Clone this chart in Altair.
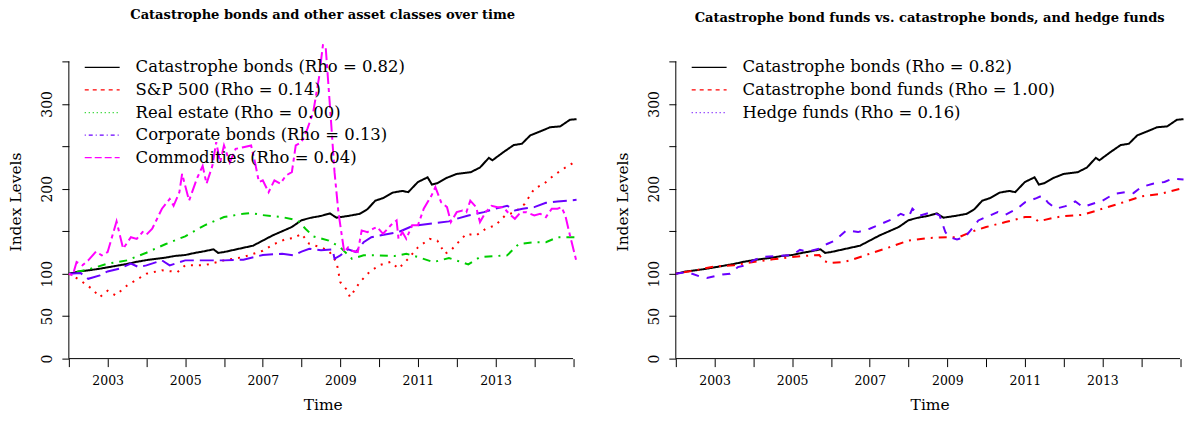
import altair as alt
import pandas as pd

# ---------------- data ----------------
cat_years = [2002.0, 2002.25, 2002.5, 2002.75, 2003.0, 2003.25, 2003.5, 2003.75, 2004.0, 2004.25,
             2004.5, 2004.75, 2005.0, 2005.25, 2005.5, 2005.73, 2005.85, 2006.0, 2006.25, 2006.5,
             2006.75, 2007.0, 2007.25, 2007.5, 2007.75, 2008.0, 2008.25, 2008.5, 2008.73, 2008.9,
             2009.2, 2009.5, 2009.7, 2009.9, 2010.1, 2010.35, 2010.6, 2010.75, 2011.0, 2011.25,
             2011.36, 2011.5, 2011.75, 2012.0, 2012.36, 2012.6, 2012.83, 2012.92, 2013.2, 2013.47,
             2013.68, 2013.9, 2014.15, 2014.41, 2014.67, 2014.92, 2015.09]
cat_values = [100, 102.5, 104, 105.5, 107.5, 109.5, 111.5, 114, 116, 117.5,
              119, 121, 122, 124.5, 126.5, 128.7, 124.5, 125.5, 128, 130.5,
              133, 139, 145, 150, 155, 163, 166, 168, 171, 166,
              168, 170.5, 176, 186, 189, 195.5, 197.5, 196, 208, 213.5,
              205, 206.5, 213, 217.5, 219.5, 225, 236.5, 233.5, 243, 251.5,
              253, 263, 267.5, 272.5, 273.5, 281.3, 282]

sp_years = [2002.0, 2002.3, 2002.6, 2002.8, 2003.0, 2003.2, 2003.5, 2004.0, 2004.4, 2004.8,
            2005.0, 2005.5, 2006.0, 2006.5, 2007.0, 2007.3, 2007.6, 2007.8, 2008.0, 2008.2,
            2008.5, 2008.7, 2008.9, 2009.0, 2009.15, 2009.25, 2009.5, 2009.75, 2010.0, 2010.3,
            2010.5, 2010.75, 2011.0, 2011.3, 2011.5, 2011.7, 2011.85, 2012.0, 2012.25, 2012.5,
            2012.75, 2013.0, 2013.25, 2013.5, 2013.75, 2014.0, 2014.25, 2014.5, 2014.75, 2015.09]
sp_values = [100, 92, 82, 72.5, 80, 74.5, 86, 100, 104, 102,
             110, 110, 115.7, 119.6, 127, 135, 141, 142, 147, 135,
             131, 127, 114, 90, 82, 72.5, 90, 102, 110, 114,
             106, 117.6, 131, 141, 139, 123.5, 127.5, 135, 147, 145,
             153, 157, 168.6, 172.5, 182, 200, 206, 215.7, 223.5, 233]

re_years = [2002.0, 2002.5, 2003.0, 2003.5, 2004.0, 2004.5, 2005.0, 2005.5, 2006.0, 2006.5,
            2006.7, 2007.0, 2007.5, 2007.9, 2008.1, 2008.3, 2008.7, 2009.0, 2009.3, 2009.6,
            2010.0, 2010.4, 2010.7, 2011.0, 2011.4, 2011.8, 2012.3, 2012.6, 2013.0, 2013.3,
            2013.6, 2014.0, 2014.3, 2014.6, 2015.09]
re_values = [100, 105, 111.8, 115.7, 124.7, 135, 144, 157, 166.7, 170.6,
             171.4, 169, 166.7, 162.7, 153, 144, 139, 131, 117.6, 121.6,
             121.6, 120.8, 123.5, 119.6, 113.7, 118.4, 111, 119.6, 120.8, 121.6,
             135, 137, 137, 143, 143]

cb_years = [2002.0, 2002.3, 2002.5, 2002.8, 2003.0, 2003.3, 2003.6, 2003.8, 2004.0, 2004.4,
            2004.6, 2005.0, 2005.5, 2006.0, 2006.5, 2007.0, 2007.5, 2007.8, 2008.0, 2008.2,
            2008.5, 2008.8, 2008.85, 2009.0, 2009.2, 2009.4, 2009.6, 2009.8, 2010.0, 2010.5,
            2010.8, 2011.0, 2011.5, 2011.8, 2012.0, 2012.3, 2012.7, 2013.0, 2013.3, 2013.5,
            2013.7, 2014.0, 2014.3, 2014.6, 2015.09]
cb_values = [100, 100.8, 94, 98, 102.7, 105.9, 111.8, 107.8, 109.8, 115.7,
             109.8, 115.7, 115.7, 115.7, 116.5, 122, 123.5, 121.6, 126, 129.4,
             127.5, 128.6, 117.6, 121.6, 128.6, 125.5, 137, 143, 145, 149,
             155, 157, 160, 161.6, 164.7, 168.6, 172.5, 176.5, 180, 174.5,
             176.5, 178.4, 183.5, 185, 187]

cm_years = [2002.0, 2002.1, 2002.2, 2002.35, 2002.5, 2002.7, 2002.85, 2003.0, 2003.23, 2003.4,
            2003.6, 2003.75, 2003.9, 2004.0, 2004.15, 2004.4, 2004.6, 2004.7, 2004.85, 2004.92,
            2005.1, 2005.3, 2005.45, 2005.55, 2005.7, 2005.8, 2005.9, 2006.0, 2006.15, 2006.3,
            2006.5, 2006.7, 2006.8, 2006.9, 2007.0, 2007.15, 2007.3, 2007.45, 2007.6, 2007.75,
            2007.85, 2008.0, 2008.15, 2008.3, 2008.45, 2008.55, 2008.62, 2008.75, 2008.85, 2008.95,
            2009.1, 2009.2, 2009.3, 2009.45, 2009.55, 2009.7, 2009.85, 2009.95, 2010.1, 2010.3,
            2010.45, 2010.5, 2010.6, 2010.7, 2010.85, 2011.0, 2011.15, 2011.35, 2011.45, 2011.6,
            2011.75, 2011.85, 2012.0, 2012.15, 2012.25, 2012.35, 2012.5, 2012.6, 2012.75, 2012.9,
            2013.05, 2013.2, 2013.35, 2013.5, 2013.65, 2013.8, 2014.0, 2014.15, 2014.3, 2014.45,
            2014.6, 2014.7, 2014.8, 2014.9, 2015.09]
cm_values = [100, 98, 113.7, 110, 115.7, 126, 121.6, 125.5, 161.6, 129.4,
             143, 141, 149, 146, 153, 176.5, 188, 180, 196, 217.6,
             186, 211.8, 227, 206, 227, 255, 231, 251, 231, 247,
             249, 251, 231, 208, 210, 196, 210, 206, 215.7, 219.6,
             251, 255, 270.6, 290, 331, 369, 368, 286, 219.6, 172.5,
             125.5, 131, 127, 125.5, 151, 149, 153, 155, 147, 157,
             162.7, 141, 149, 141, 157, 157, 176.5, 192, 202, 184,
             178.4, 160.8, 172.5, 174.5, 172.5, 186, 178.4, 160.8, 172.5, 180,
             178.4, 178.4, 170.6, 164.7, 172.5, 172.5, 168.6, 170.6, 166.7, 176.5,
             176.5, 178.4, 168.6, 149, 114]

cbf_years = [2002.0, 2002.5, 2003.0, 2003.5, 2004.0, 2004.5, 2005.0, 2005.5, 2005.7, 2005.8,
             2005.95, 2006.3, 2006.5, 2007.0, 2007.5, 2008.0, 2008.5, 2009.0, 2009.3, 2009.6,
             2010.0, 2010.5, 2011.0, 2011.2, 2011.35, 2011.7, 2012.0, 2012.5, 2013.0, 2013.5,
             2014.0, 2014.5, 2015.09]
cbf_values = [100, 104, 108.6, 110, 113.7, 116.9, 119.6, 121.6, 122, 115.7,
              112.5, 113.7, 115.7, 123.5, 131, 139, 142, 143, 143, 149,
              155, 160.8, 166.7, 166.7, 161.6, 165.5, 167.8, 169.4, 176.5, 183.5,
              191, 194, 201]

hf_years = [2002.0, 2002.3, 2002.6, 2002.8, 2003.2, 2003.4, 2003.6, 2003.8, 2004.0, 2004.2,
            2004.6, 2005.0, 2005.2, 2005.4, 2005.7, 2005.9, 2006.1, 2006.4, 2006.7, 2007.0,
            2007.3, 2007.6, 2007.8, 2008.0, 2008.1, 2008.3, 2008.6, 2008.8, 2008.95, 2009.05,
            2009.25, 2009.45, 2009.6, 2009.8, 2010.0, 2010.3, 2010.5, 2010.8, 2011.0, 2011.3,
            2011.45, 2011.6, 2011.8, 2012.05, 2012.3, 2012.5, 2012.75, 2013.0, 2013.3, 2013.6,
            2013.8, 2014.0, 2014.3, 2014.6, 2014.8, 2015.09]
hf_values = [100, 102, 97, 95, 99, 100, 107.8, 109.8, 115.7, 119.6,
             120.8, 122, 128, 126, 129.4, 135, 139, 151, 149, 153,
             158.8, 164.7, 170.6, 166.7, 176.5, 168.6, 172.5, 168.6, 149, 143,
             140.4, 143, 151, 162.7, 166.7, 172.5, 169.4, 176.5, 184, 189,
             192, 183.5, 176.5, 179.6, 185, 178.4, 182.4, 186, 194, 196,
             194.9, 202, 206, 208, 211.8, 211]

left_names = ["Catastrophe bonds", "S&P 500", "Real estate", "Corporate bonds", "Commodities"]
left_rho = ["0.82", "0.14", "0.00", "0.13", "0.04"]
left_colors = ["#000000", "#FF0000", "#00CD00", "#6A00FF", "#FF00FF"]

right_names = ["Catastrophe bonds", "Catastrophe bond funds", "Hedge funds"]
right_rho = ["0.82", "1.00", "0.16"]
right_colors = ["#000000", "#FF0000", "#6A00FF"]

x_ticks = list(range(2002, 2016))
x_labeled = [2003, 2005, 2007, 2009, 2011, 2013]
y_ticks = list(range(0, 351, 50))
y_labeled = [0, 50, 100, 200, 300]

# ---------------- styles ----------------
FONT = "DejaVu Serif"
X_DOMAIN = [2002, 2015.09]
Y_DOMAIN = [0, 370]
PW, PH = 509, 315

# R line types (drawn lines use lwd 2, the legend lwd 1)
left_line_dash = [[1, 0], [2, 6], [2, 6, 8, 6], [14, 6], [4, 4, 12, 4]]
left_leg_dash = [[1, 0], [4, 4], [1, 3], [1, 3, 4, 3], [7, 3]]
right_line_dash = [[1, 0], [2, 6, 8, 6], [8, 8]]
right_leg_dash = [[1, 0], [4, 4], [1, 3]]

x_axis = alt.Axis(values=x_ticks, format="d", grid=False, domain=False,
                  labelExpr="indexof(%s, datum.value) >= 0 ? datum.label : ''" % str(x_labeled),
                  tickSize=8, tickColor="black", labelPadding=8,
                  labelFont=FONT, labelFontSize=12.5, labelColor="black",
                  title="Time", titleFont=FONT, titleFontSize=15.5,
                  titleFontWeight="normal", titleColor="black", titlePadding=11)
y_axis = alt.Axis(values=y_ticks, grid=False, domain=False,
                  labelExpr="indexof(%s, datum.value) >= 0 ? datum.label : ''" % str(y_labeled),
                  tickSize=7, tickColor="black", labelPadding=7.5,
                  labelAngle=270, labelAlign="center", labelBaseline="bottom",
                  labelFont=FONT, labelFontSize=14, labelColor="black",
                  title="Index Levels", titleFont=FONT, titleFontSize=15.5,
                  titleFontWeight="normal", titleColor="black", titlePadding=16.5)


def panel(title, names, rhos, colors, years_list, values_list, line_dash, leg_dash):
    xs = alt.Scale(domain=X_DOMAIN, nice=False, zero=False)
    ys = alt.Scale(domain=Y_DOMAIN, nice=False, zero=True)
    cscale = alt.Scale(domain=names, range=colors)

    rows = []
    for n, yrs, vals in zip(names, years_list, values_list):
        for a, b in zip(yrs, vals):
            rows.append({"series": n, "year": a, "value": b})
    df = pd.DataFrame(rows)

    lines = alt.Chart(df).mark_line(strokeWidth=2).encode(
        x=alt.X("year:Q", scale=xs, axis=x_axis),
        y=alt.Y("value:Q", scale=ys, axis=y_axis),
        color=alt.Color("series:N", scale=cscale, legend=None),
        strokeDash=alt.StrokeDash("series:N", scale=alt.Scale(domain=names, range=line_dash), legend=None),
        detail="series:N",
    )

    # axis lines as R draws them: from first to last tick
    ax_df = pd.DataFrame({"year": [min(x_ticks), min(x_ticks)],
                          "year2": [max(x_ticks), min(x_ticks)],
                          "value": [min(y_ticks), min(y_ticks)],
                          "value2": [min(y_ticks), max(y_ticks)]})
    axes = alt.Chart(ax_df).mark_rule(color="black", strokeWidth=1).encode(
        x=alt.X("year:Q", scale=xs, axis=x_axis), x2="year2:Q",
        y=alt.Y("value:Q", scale=ys, axis=y_axis), y2="value2:Q")

    # legend (top-left, inside the plot)
    leg_top, leg_step = 343, 26.6
    leg_df = pd.DataFrame({
        "series": names,
        "label": ["%s (Rho = %s)" % (n, r) for n, r in zip(names, rhos)],
        "year": [2002.41] * len(names),
        "year2": [2003.31] * len(names),
        "tyear": [2003.72] * len(names),
        "value": [leg_top - i * leg_step for i in range(len(names))],
    })
    leg_lines = alt.Chart(leg_df).mark_rule(strokeWidth=1.2).encode(
        x=alt.X("year:Q", scale=xs, axis=x_axis), x2="year2:Q",
        y=alt.Y("value:Q", scale=ys, axis=y_axis),
        color=alt.Color("series:N", scale=cscale, legend=None),
        strokeDash=alt.StrokeDash("series:N", scale=alt.Scale(domain=names, range=leg_dash), legend=None),
    )
    leg_text = alt.Chart(leg_df).mark_text(align="left", baseline="middle", font=FONT,
                                           fontSize=16.5, color="black").encode(
        x=alt.X("tyear:Q", scale=xs, axis=x_axis),
        y=alt.Y("value:Q", scale=ys, axis=y_axis),
        text="label:N")

    return alt.layer(axes, lines, leg_lines, leg_text).resolve_scale(
        strokeDash="independent").properties(
        width=PW, height=PH,
        title=alt.TitleParams(title, font=FONT, fontSize=13.1, fontWeight="bold",
                              color="black", anchor="middle", offset=19))


left = panel("Catastrophe bonds and other asset classes over time", left_names, left_rho,
             left_colors, [cat_years, sp_years, re_years, cb_years, cm_years],
             [cat_values, sp_values, re_values, cb_values, cm_values],
             left_line_dash, left_leg_dash)
right = panel("Catastrophe bond funds vs. catastrophe bonds, and hedge funds", right_names,
              right_rho, right_colors, [cat_years, cbf_years, hf_years],
              [cat_values, cbf_values, hf_values], right_line_dash, right_leg_dash)

chart = alt.hconcat(left, right, spacing=99.5, bounds="flush").resolve_scale(
    color="independent", strokeDash="independent").properties(
    padding={"left": 1, "top": 0, "right": 0, "bottom": 0},
    background="white",
).configure_view(stroke=None)

chart.save("out.html", embed_options={"renderer": "svg", "actions": False})
